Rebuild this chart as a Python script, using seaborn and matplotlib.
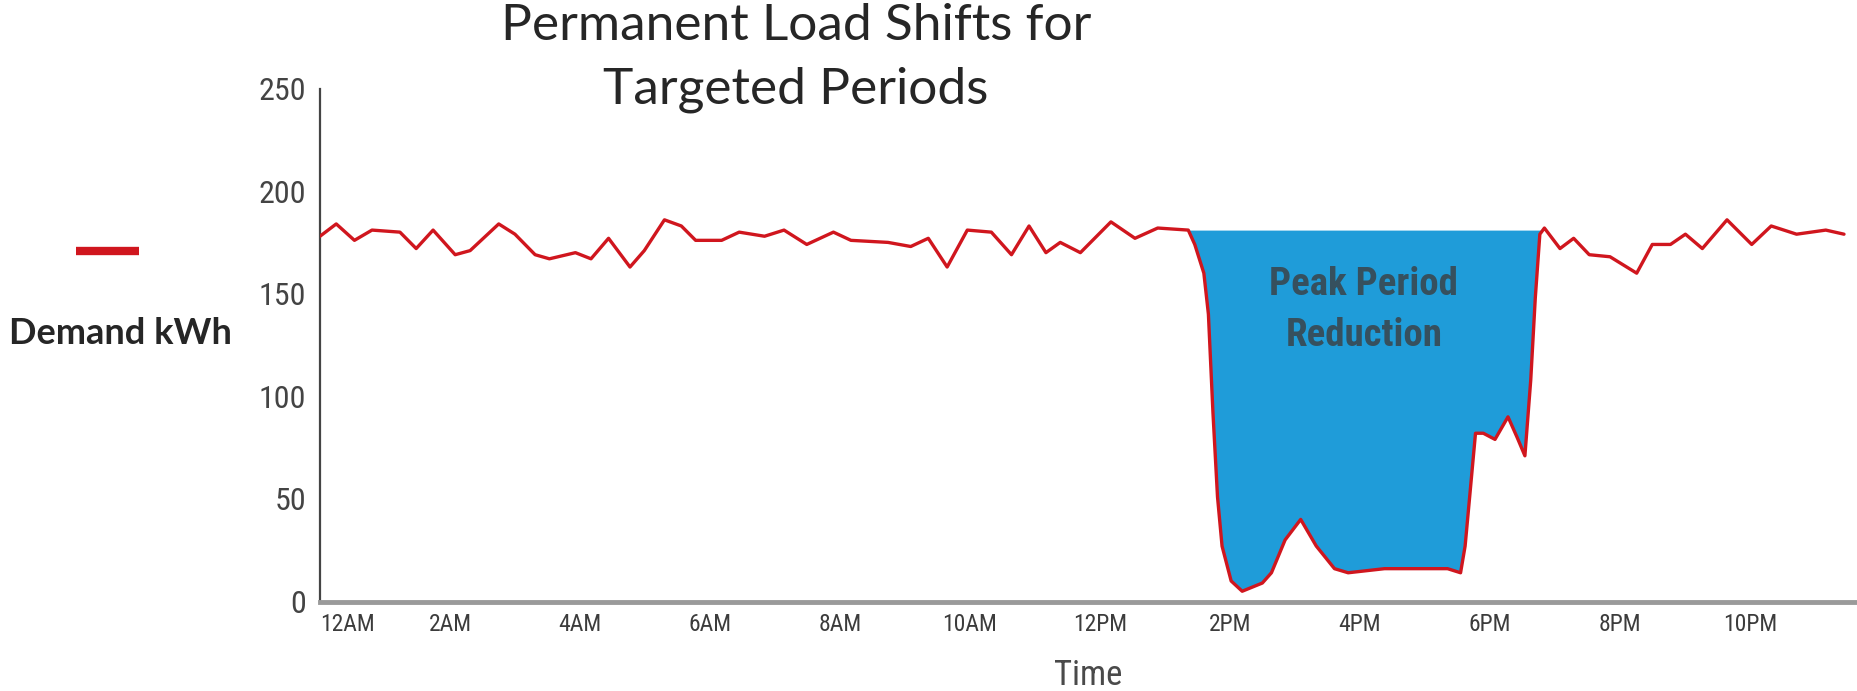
import matplotlib
matplotlib.use("Agg")
import matplotlib.pyplot as plt
import seaborn as sns
import numpy as np
import pandas as pd

# hour of day (0 = 12AM) and demand in kWh
hours = [0.00, 0.25, 0.53, 0.80, 1.23, 1.48, 1.74, 2.08, 2.31, 2.75, 3.00, 3.31,
         3.53, 3.93, 4.17, 4.44, 4.77, 4.99, 5.30, 5.56, 5.78, 6.18, 6.45, 6.84,
         7.14, 7.49, 7.90, 8.17, 8.74, 9.09, 9.36, 9.65, 9.96, 10.33, 10.64, 10.91,
         11.17, 11.39, 11.70, 12.17, 12.54, 12.89, 13.36, 13.46, 13.60, 13.67, 13.74,
         13.81, 13.88, 14.02, 14.19, 14.50, 14.64, 14.85, 15.09, 15.33, 15.61, 15.82,
         16.38, 16.93, 17.35, 17.55, 17.62, 17.69, 17.78, 17.90, 18.08, 18.28, 18.42,
         18.54, 18.63, 18.70, 18.77, 18.84, 19.08, 19.29, 19.53, 19.85, 20.26, 20.50,
         20.78, 21.01, 21.27, 21.65, 22.03, 22.33, 22.72, 23.17, 23.45]
demand = [178, 184, 176, 181, 180, 172, 181, 169, 171, 184, 179, 169,
          167, 170, 167, 177, 163, 171, 186, 183, 176, 176, 180, 178,
          181, 174, 180, 176, 175, 173, 177, 163, 181, 180, 169, 183,
          170, 175, 170, 185, 177, 182, 181, 174, 160, 140, 92,
          51, 27, 10, 5, 9, 14, 30, 40, 27, 16, 14,
          16, 16, 16, 14, 27, 51, 82, 82, 79, 90, 80,
          71, 108, 148, 179, 182, 172, 177, 169, 168, 160, 174,
          174, 179, 172, 186, 174, 183, 179, 181, 179]

peak_level = 181
peak_start, peak_end = 13.36, 18.84

x_ticks = list(range(0, 24))
x_labels = ["12AM", "", "2AM", "", "4AM", "", "6AM", "", "8AM", "", "10AM", "",
            "12PM", "", "2PM", "", "4PM", "", "6PM", "", "8PM", "", "10PM", ""]
y_ticks = [0, 50, 100, 150, 200, 250]

df = pd.DataFrame({"hour": hours, "demand": demand})

sns.set_style("white")
narrow = ["Roboto Condensed", "DejaVu Sans"]
plt.rcParams["font.family"] = narrow

fig = plt.figure(figsize=(18.57, 6.91), dpi=100)
ax = fig.add_axes([320 / 1857, 89.5 / 691, 1537 / 1857, 513 / 691])

in_peak = (df.hour >= peak_start) & (df.hour <= peak_end)
ax.fill_between(df.hour, df.demand, peak_level, where=in_peak, color="#1f9cd9",
                linewidth=0, interpolate=True, zorder=1)
sns.lineplot(data=df, x="hour", y="demand", color="#d0161e", linewidth=2.4,
             ax=ax, zorder=3, legend=False)
line = ax.lines[0]
line.set_solid_joinstyle("round")

ax.text(16.06, 142, "Peak Period\nReduction", ha="center", va="center",
        fontsize=28, fontweight="bold", color="#36505e", linespacing=1.5)

ax.set_xlim(0, 23.65)
ax.set_ylim(0, 250)
ax.set_xticks(x_ticks)
ax.set_xticklabels(x_labels)
ax.get_xticklabels()[0].set_horizontalalignment("left")
ax.set_yticks(y_ticks)
ax.tick_params(axis="x", direction="inout", length=7, width=1.3, color="#444444",
               labelsize=17, labelcolor="#3c3c3c", pad=5)
ax.tick_params(axis="y", length=0, labelsize=23, labelcolor="#444444", pad=10)
ax.set_xlabel("Time", fontsize=25, color="#4a4a4a", labelpad=16)
ax.set_ylabel("")

sns.despine(ax=ax, top=True, right=True)
ax.spines["bottom"].set_color("#9a9a9a")
ax.spines["bottom"].set_linewidth(3.5)
ax.spines["left"].set_color("#444444")
ax.spines["left"].set_linewidth(1.6)

# legend swatch sits above its label, left of the chart
leg = ax.legend(handles=[line], labels=[""], loc="center",
                bbox_to_anchor=(113 / 1857, 1 - 252 / 691),
                bbox_transform=fig.transFigure, frameon=False,
                handlelength=4.6, fontsize=10)
for h in leg.get_lines():
    h.set_linewidth(6)
    h.set_solid_capstyle("butt")
fig.text(120 / 1857, 1 - 334 / 691, "Demand kWh", ha="center", va="center",
         fontsize=26, fontweight="bold", family=["Lato", "DejaVu Sans"])

fig.text(796 / 1857, 1 - 58 / 691, "Permanent Load Shifts for\nTargeted Periods",
         ha="center", va="center", fontsize=37, linespacing=1.45,
         family=["Lato", "DejaVu Sans"])

fig.savefig("out.png", dpi=100)
